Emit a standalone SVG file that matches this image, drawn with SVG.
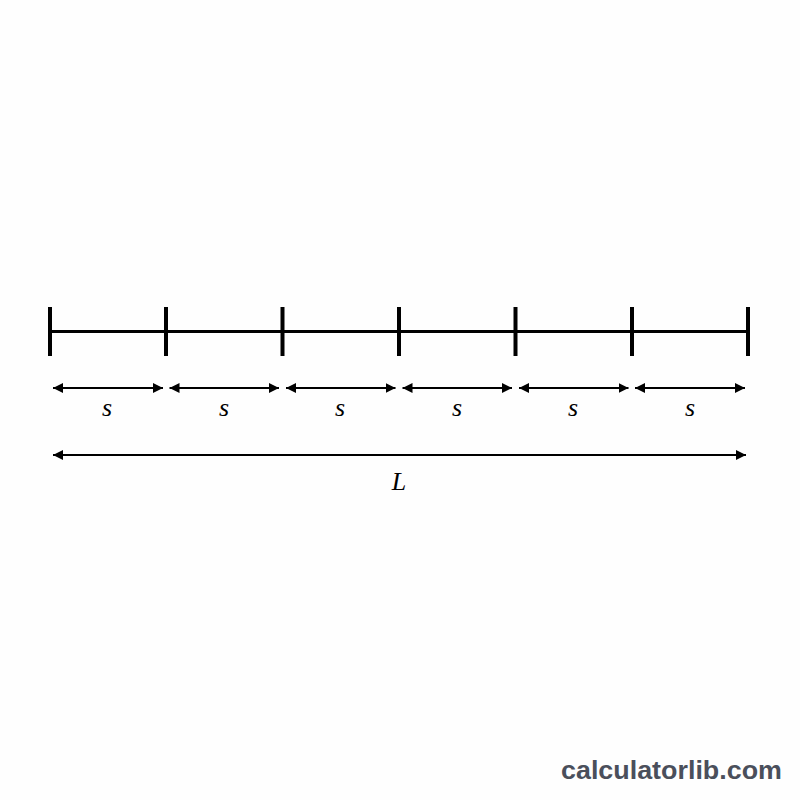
<svg xmlns="http://www.w3.org/2000/svg" width="800" height="800" viewBox="0 0 800 800">
<style>
.ln{stroke:#000;stroke-width:3;fill:none}
.tk{stroke:#000;stroke-width:4;fill:none}
.ar{stroke:#000;stroke-width:2;fill:none}
.lbl{font-family:"Liberation Serif",serif;font-style:italic;font-size:26px;fill:#000;text-anchor:middle}
.wm{font-family:"Liberation Sans",Arial,sans-serif;font-weight:bold;font-size:26px;fill:#4a4f5b}
</style>
<defs>
<marker id="ah" viewBox="0 0 10 10" refX="10" refY="5" markerWidth="10" markerHeight="10" markerUnits="userSpaceOnUse" orient="auto-start-reverse">
<path d="M0,0 L10,5 L0,10 Z" fill="#000"/>
</marker>
</defs>
<rect width="800" height="800" fill="#fefefe"/>
<g id="segment">
<line class="ln" x1="50" y1="331.5" x2="748" y2="331.5"/>
<line class="tk" x1="50" y1="307" x2="50" y2="356"/>
<line class="tk" x1="166" y1="307" x2="166" y2="356"/>
<line class="tk" x1="282.5" y1="307" x2="282.5" y2="356"/>
<line class="tk" x1="399" y1="307" x2="399" y2="356"/>
<line class="tk" x1="515.5" y1="307" x2="515.5" y2="356"/>
<line class="tk" x1="632" y1="307" x2="632" y2="356"/>
<line class="tk" x1="748" y1="307" x2="748" y2="356"/>
</g>
<g id="connectors">
<line class="ar" x1="53" y1="388" x2="163" y2="388" marker-start="url(#ah)" marker-end="url(#ah)"/>
<line class="ar" x1="169.5" y1="388" x2="279" y2="388" marker-start="url(#ah)" marker-end="url(#ah)"/>
<line class="ar" x1="286" y1="388" x2="395.5" y2="388" marker-start="url(#ah)" marker-end="url(#ah)"/>
<line class="ar" x1="402.5" y1="388" x2="512" y2="388" marker-start="url(#ah)" marker-end="url(#ah)"/>
<line class="ar" x1="519" y1="388" x2="628.5" y2="388" marker-start="url(#ah)" marker-end="url(#ah)"/>
<line class="ar" x1="635" y1="388" x2="745" y2="388" marker-start="url(#ah)" marker-end="url(#ah)"/>
<line class="ar" x1="53" y1="455" x2="746" y2="455" marker-start="url(#ah)" marker-end="url(#ah)"/>
</g>
<g id="labels">
<text class="lbl" x="107" y="416">s</text>
<text class="lbl" x="224" y="416">s</text>
<text class="lbl" x="340" y="416">s</text>
<text class="lbl" x="457" y="416">s</text>
<text class="lbl" x="573" y="416">s</text>
<text class="lbl" x="690" y="416">s</text>
<text class="lbl" x="399" y="490">L</text>
</g>
<text class="wm" x="561" y="779" textLength="221" lengthAdjust="spacingAndGlyphs">calculatorlib.com</text>
</svg>
